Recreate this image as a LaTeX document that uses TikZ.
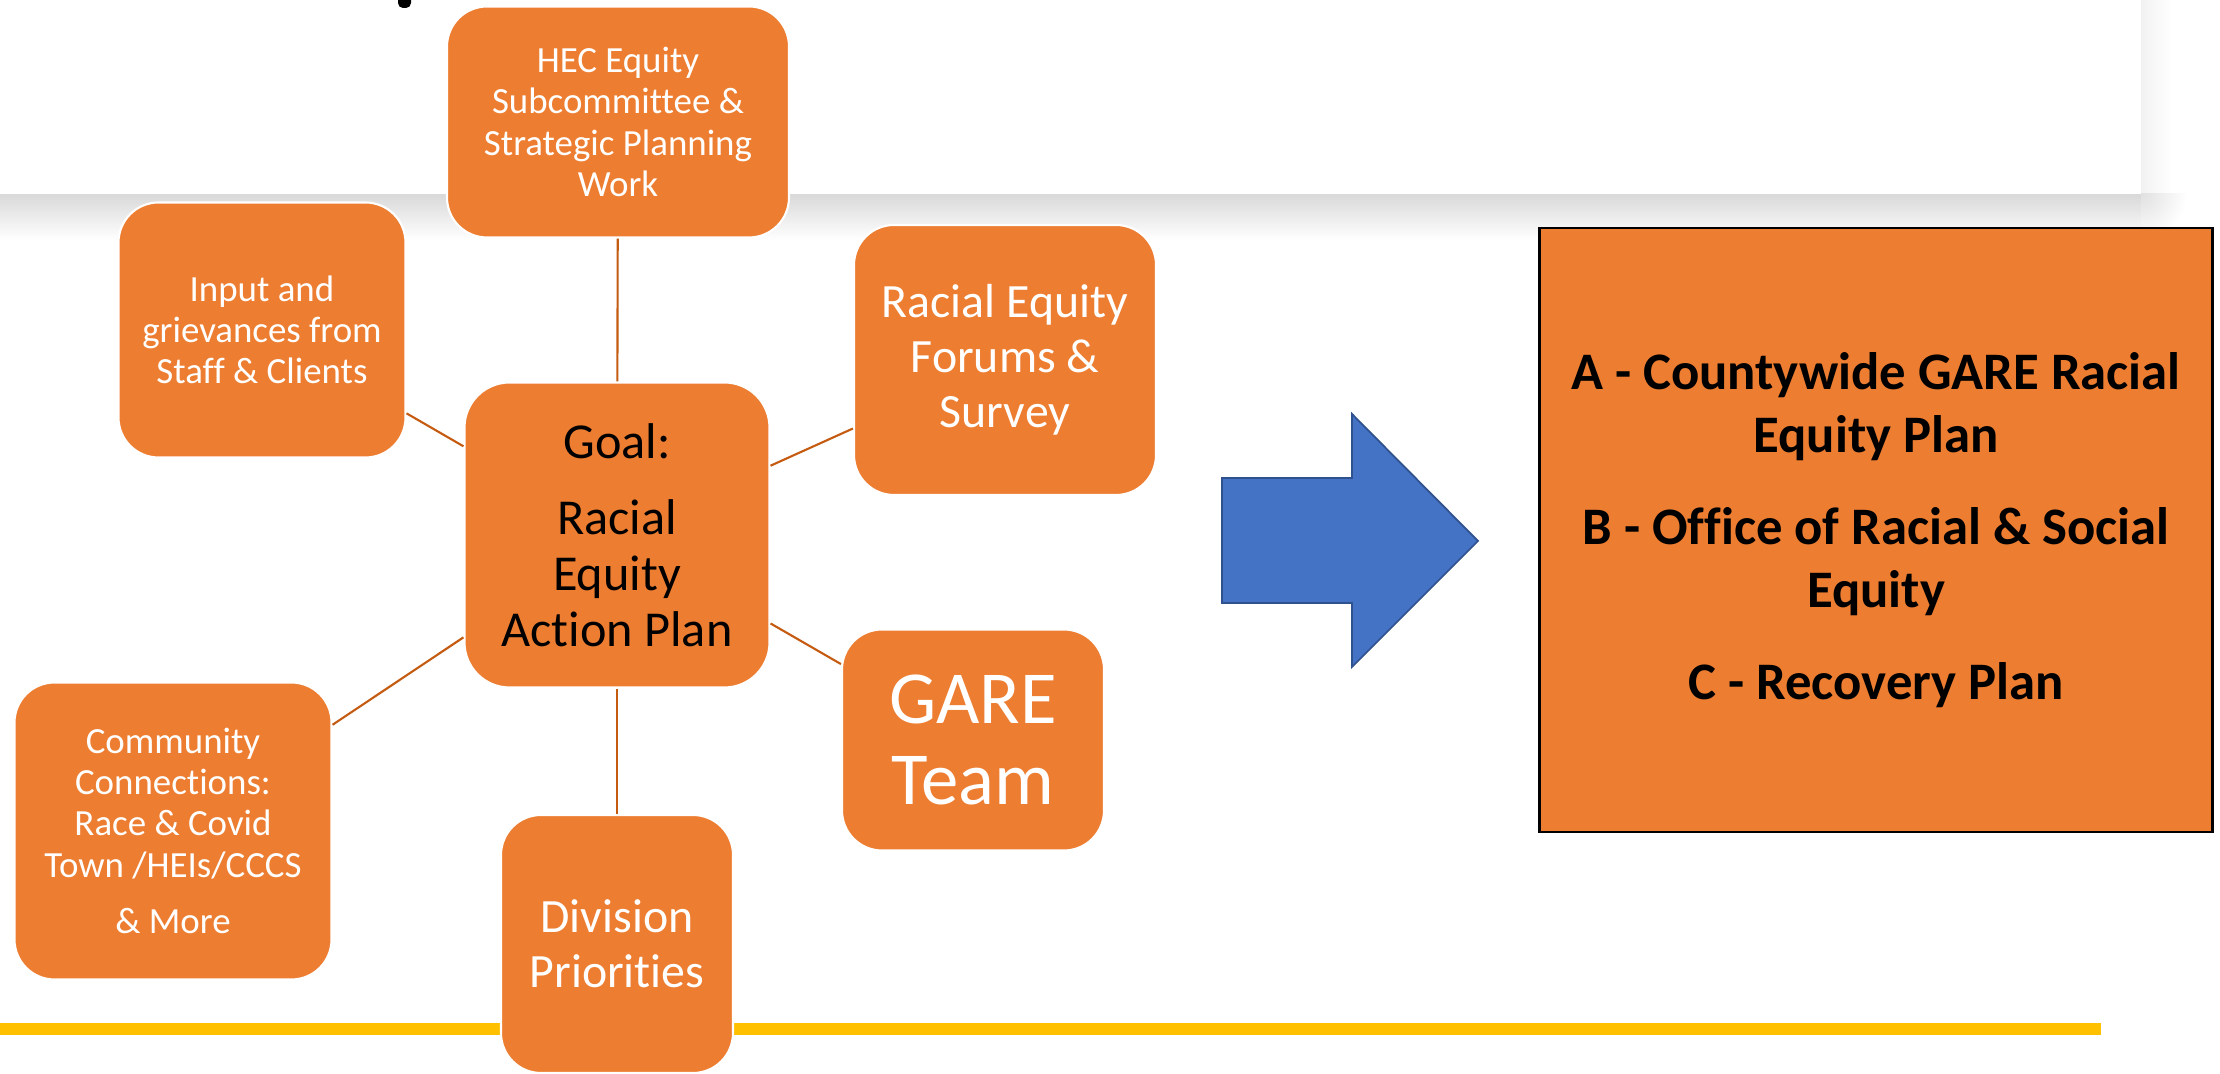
\documentclass[tikz,border=0pt]{standalone}
\usepackage{fontspec}
\setmainfont{Carlito}[Ligatures=NoCommon]
\usepackage{tikz}
\usetikzlibrary{positioning}

\definecolor{boxorange}{HTML}{ED7D31}
\definecolor{spokebrown}{HTML}{C55A11}
\definecolor{arrowblue}{HTML}{4472C4}
\definecolor{arrowedge}{HTML}{2F528F}
\definecolor{railyellow}{HTML}{FFC000}

\tikzset{
  petal/.style={rectangle,rounded corners=4mm,fill=boxorange,draw=white,line width=0.6pt,text=white,align=center,inner sep=0pt},
  smalltext/.style={font=\fontsize{10.5}{11.7}\selectfont},
  bigtext/.style={font=\fontsize{13.6}{15.6}\selectfont},
  spoke/.style={draw=spokebrown,line width=0.6pt},
}

\begin{document}
\begin{tikzpicture}[x=0.1mm,y=-0.1mm]
    \useasboundingbox (0,0) rectangle (2220,1074);

    % shadow under the title panel
    \shade[top color=black!15,bottom color=white] (0,194) rectangle (2141,240);
    \shade[left color=black!5,right color=white] (2141,0) rectangle (2172,194);
    \begin{scope}
      \clip (2141,194) rectangle (2190,245);
      \shade[inner color=black!12,outer color=white] (2141,194) circle (46);
    \end{scope}
    \fill[white] (0,0) rectangle (2141,194);
    \fill[black,rounded corners=0.5mm] (398,-5) rectangle (411,8);

    % footer rule
    \fill[railyellow] (0,1023) rectangle (2101,1035);

    \node[petal,smalltext,minimum width=34.2mm,minimum height=23.1mm] (hec) at (618,122) {HEC Equity\\Subcommittee \&\\Strategic Planning\\Work};
    \node[petal,smalltext,minimum width=28.7mm,minimum height=25.5mm] (input) at (262,330) {Input and\\grievances from\\Staff \& Clients};
    \node[petal,bigtext,minimum width=30.2mm,minimum height=27mm] (forums) at (1005,360) {Racial Equity\\Forums \&\\Survey};
    \node[petal,text=black,minimum width=30.5mm,minimum height=30.5mm,rounded corners=4.5mm,font=\fontsize{14.3}{15.9}\selectfont] (goal) at (617,535) {Goal:\\[5.7pt]Racial\\Equity\\Action Plan};
    \node[petal,minimum width=26.2mm,minimum height=22.1mm,font=\fontsize{21.3}{23.3}\selectfont] (gare) at (973,740) {GARE\\Team};
    \node[petal,smalltext,minimum width=31.7mm,minimum height=29.7mm] (community) at (173,831) {Community\\Connections:\\Race \& Covid\\Town /HEIs/CCCS\\[4.3pt]\& More};
    \node[petal,bigtext,minimum width=23.2mm,minimum height=25.8mm] (division) at (617,944) {Division\\Priorities};

    \path[spoke] (goal) edge (hec)
    (goal) edge (input)
    (goal) edge (forums)
    (goal) edge (gare)
    (goal) edge (community)
    (goal) edge (division);

    % block arrow
    \draw[fill=arrowblue,draw=arrowedge,line width=0.5pt] (1222,478) -- (1352,478) -- (1352,414) -- (1478,541) -- (1352,667) -- (1352,603) -- (1222,603) -- cycle;

    \node[rectangle,draw=black,line width=0.6pt,fill=boxorange,minimum width=67.3mm,minimum height=60.4mm,align=center,font=\fontsize{15}{17.9}\selectfont\bfseries] (plans) at (1876,530) {A - Countywide GARE Racial\\Equity Plan\\[8.3pt]B - Office of Racial \& Social\\Equity\\[8.3pt]C - Recovery Plan};

\end{tikzpicture}
\end{document}
